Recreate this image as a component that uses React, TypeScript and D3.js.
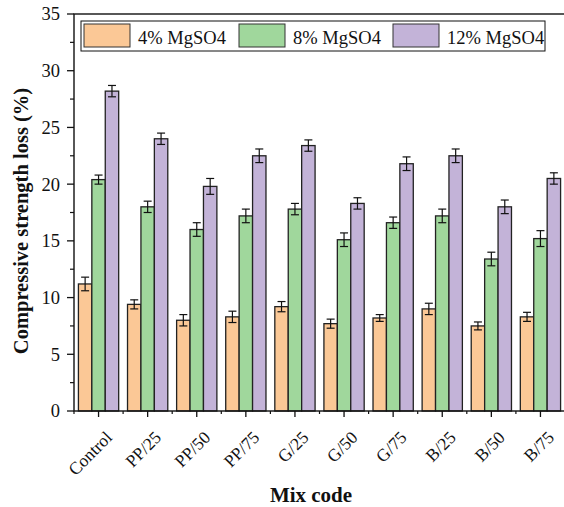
import React from "react";
import * as d3 from "d3";

const categories = ["Control", "PP/25", "PP/50", "PP/75", "G/25", "G/50", "G/75", "B/25", "B/50", "B/75"];
const seriesNames = ["4% MgSO4", "8% MgSO4", "12% MgSO4"];
const colors = ["#fbc896", "#a0d79c", "#c3b3d8"];

const mg4 = [11.2, 9.4, 8.0, 8.3, 9.2, 7.7, 8.2, 9.0, 7.5, 8.3];
const mg4Err = [0.6, 0.4, 0.5, 0.5, 0.45, 0.4, 0.3, 0.5, 0.35, 0.4];
const mg8 = [20.4, 18.0, 16.0, 17.2, 17.8, 15.1, 16.6, 17.2, 13.4, 15.2];
const mg8Err = [0.4, 0.5, 0.6, 0.6, 0.5, 0.6, 0.5, 0.6, 0.6, 0.7];
const mg12 = [28.2, 24.0, 19.8, 22.5, 23.4, 18.3, 21.8, 22.5, 18.0, 20.5];
const mg12Err = [0.5, 0.5, 0.7, 0.6, 0.5, 0.5, 0.6, 0.6, 0.6, 0.5];

const yTicks = [0, 5, 10, 15, 20, 25, 30, 35];

const values = [mg4, mg8, mg12];
const errors = [mg4Err, mg8Err, mg12Err];

const W = 564;
const H = 507;
const margin = { left: 74, right: -1, top: 14, bottom: 96 };
const font = "'Liberation Serif', 'Times New Roman', serif";

export default function App() {
  const x = d3.scaleBand().domain(categories).range([margin.left, W - margin.right]).paddingInner(0.18).paddingOuter(0.09);
  const step = x.step();
  const xs = d3.scaleBand().domain(seriesNames).range([0, x.bandwidth()]);
  const y = d3.scaleLinear().domain([0, 35]).range([H - margin.bottom, margin.top]);
  const minorY = d3.range(2.5, 35, 5);
  const plotRight = W - margin.right;
  const y0 = y(0);

  const legendX = 81;
  const legendY = 21;
  const swatchX = [84, 239, 393];

  return (
    <svg width={W} height={H} style={{ display: "block", position: "absolute", left: 0, top: 0 }} fontFamily={font}>
      <rect x={0} y={0} width={W} height={H} fill="#fff" />
      {/* bars */}
      {categories.map((c, i) => (
        <g key={c}>
          {seriesNames.map((s, j) => {
            const v = values[j][i];
            const e = errors[j][i];
            const bx = (x(c) as number) + (xs(s) as number);
            const cx = bx + xs.bandwidth() / 2;
            return (
              <g key={s}>
                <rect x={bx} y={y(v)} width={xs.bandwidth()} height={y0 - y(v)} fill={colors[j]} stroke="#222" strokeWidth={1.3} />
                <line x1={cx} x2={cx} y1={y(v + e)} y2={y(v - e)} stroke="#111" strokeWidth={1.2} />
                <line x1={cx - 4} x2={cx + 4} y1={y(v + e)} y2={y(v + e)} stroke="#111" strokeWidth={1.2} />
                <line x1={cx - 4} x2={cx + 4} y1={y(v - e)} y2={y(v - e)} stroke="#111" strokeWidth={1.2} />
              </g>
            );
          })}
        </g>
      ))}
      {/* frame */}
      <rect x={margin.left} y={margin.top} width={plotRight - margin.left} height={y0 - margin.top} fill="none" stroke="#111" strokeWidth={1.4} />
      {/* y axis ticks */}
      {yTicks.map((t) => (
        <g key={t}>
          <line x1={margin.left - 7} x2={margin.left} y1={y(t)} y2={y(t)} stroke="#111" strokeWidth={1.3} />
          <text x={margin.left - 14} y={y(t)} dy="0.35em" textAnchor="end" fontSize={18.5} fill="#111">{t}</text>
        </g>
      ))}
      {minorY.map((t) => (
        <line key={t} x1={margin.left - 4} x2={margin.left} y1={y(t)} y2={y(t)} stroke="#111" strokeWidth={1.2} />
      ))}
      {/* x axis ticks */}
      {categories.map((c) => {
        const cx = (x(c) as number) + x.bandwidth() / 2;
        return (
          <g key={c}>
            <line x1={cx} x2={cx} y1={y0} y2={y0 + 6} stroke="#111" strokeWidth={1.3} />
            <line x1={cx + step / 2} x2={cx + step / 2} y1={y0} y2={y0 + 3} stroke="#111" strokeWidth={1.2} />
            <text transform={`translate(${cx + 6},${y0 + 19}) rotate(-45)`} textAnchor="end" dy="0.7em" fontSize={17.5} fill="#111">{c}</text>
          </g>
        );
      })}
      <line x1={margin.left} x2={margin.left} y1={y0} y2={y0 + 3} stroke="#111" strokeWidth={1.2} />
      {/* axis titles */}
      <text x={311} y={502} textAnchor="middle" fontSize={21} fontWeight="bold" fill="#111">Mix code</text>
      <text transform={`translate(28,221) rotate(-90)`} textAnchor="middle" fontSize={20.5} fontWeight="bold" fill="#111">Compressive strength loss (%)</text>
      {/* legend */}
      <rect x={legendX} y={legendY} width={464} height={30} fill="#fff" stroke="#111" strokeWidth={1} />
      {seriesNames.map((s, j) => (
        <g key={s}>
          <rect x={swatchX[j]} y={legendY + 3} width={46} height={23} fill={colors[j]} stroke="#333" strokeWidth={1} />
          <text x={swatchX[j] + 54} y={44.3} fontSize={18.5} fill="#111">{s}</text>
        </g>
      ))}
    </svg>
  );
}
